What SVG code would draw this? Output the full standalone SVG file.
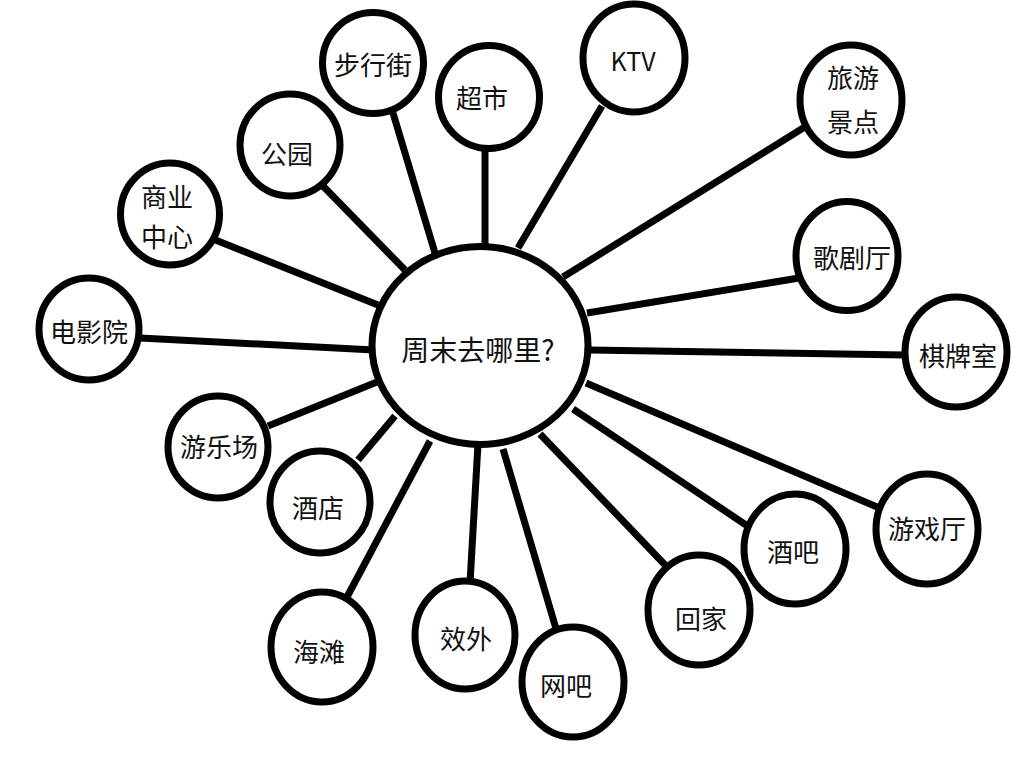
<svg xmlns="http://www.w3.org/2000/svg" width="1025" height="769" viewBox="0 0 1025 769">
<style>
.n{fill:#fff;stroke:#000;stroke-width:7}
.c line{stroke:#000;stroke-width:7;stroke-linecap:butt}
text{font-family:"Noto Sans CJK SC","Microsoft YaHei",sans-serif;font-size:26px;fill:#111;text-anchor:middle}
</style>
<rect width="1025" height="769" fill="#fff"/>
<g id="connectors" class="c">
<line x1="393" y1="113" x2="435" y2="253"/>
<line x1="485" y1="146" x2="485" y2="248"/>
<line x1="320" y1="183" x2="405" y2="270"/>
<line x1="213" y1="239" x2="378" y2="305"/>
<line x1="140" y1="338" x2="374" y2="350"/>
<line x1="602" y1="106" x2="518" y2="248"/>
<line x1="808" y1="125" x2="563" y2="277"/>
<line x1="805" y1="277" x2="587" y2="313"/>
<line x1="905" y1="355" x2="590" y2="350"/>
<line x1="268" y1="426" x2="377" y2="382"/>
<line x1="358" y1="460" x2="395" y2="416"/>
<line x1="347" y1="597" x2="430" y2="441"/>
<line x1="470" y1="583" x2="478" y2="444"/>
<line x1="557" y1="632" x2="503" y2="449"/>
<line x1="667" y1="567" x2="540" y2="434"/>
<line x1="752" y1="529" x2="573" y2="409"/>
<line x1="877" y1="507" x2="586" y2="383"/>
</g>
<g id="center"><ellipse class="n" cx="480" cy="345.5" rx="108" ry="99"/><text x="478" y="361" style="font-size:28px">周末去哪里?</text></g>
<g id="buxingjie"><ellipse class="n" cx="373" cy="63" rx="50.5" ry="50.5"/><text x="373" y="75">步行街</text></g>
<g id="chaoshi"><ellipse class="n" cx="489" cy="97" rx="50.5" ry="51.5"/><text x="482" y="108">超市</text></g>
<g id="gongyuan"><ellipse class="n" cx="290" cy="145" rx="50" ry="51"/><text x="287" y="164">公园</text></g>
<g id="shangye"><ellipse class="n" cx="170" cy="214" rx="49.5" ry="51"/><text x="167" y="207">商业</text><text x="167" y="247">中心</text></g>
<g id="dianyingyuan"><ellipse class="n" cx="89" cy="329" rx="50" ry="51"/><text x="89" y="342">电影院</text></g>
<g id="ktv"><ellipse class="n" cx="634" cy="58" rx="51" ry="54"/><text x="633" y="71" style="font-size:25px">KTV</text></g>
<g id="lvyou"><ellipse class="n" cx="851" cy="100" rx="51" ry="55"/><text x="853" y="88">旅游</text><text x="853" y="132">景点</text></g>
<g id="gejuting"><ellipse class="n" cx="847" cy="256" rx="51" ry="54.5"/><text x="852" y="268">歌剧厅</text></g>
<g id="qipaishi"><ellipse class="n" cx="956" cy="352" rx="51" ry="55"/><text x="958" y="366">棋牌室</text></g>
<g id="youlechang"><ellipse class="n" cx="218" cy="447" rx="50" ry="51"/><text x="219" y="457">游乐场</text></g>
<g id="jiudian"><ellipse class="n" cx="320" cy="502" rx="50" ry="51"/><text x="318" y="518">酒店</text></g>
<g id="haitan"><ellipse class="n" cx="322" cy="647" rx="51" ry="55"/><text x="319" y="662">海滩</text></g>
<g id="xiaowai"><ellipse class="n" cx="465" cy="635" rx="50" ry="54"/><text x="466" y="649">效外</text></g>
<g id="wangba"><ellipse class="n" cx="573" cy="682" rx="51" ry="55"/><text x="566" y="696">网吧</text></g>
<g id="huijia"><ellipse class="n" cx="699" cy="610" rx="51" ry="55"/><text x="701" y="629">回家</text></g>
<g id="jiuba"><ellipse class="n" cx="795" cy="549" rx="51" ry="55"/><text x="793" y="562">酒吧</text></g>
<g id="youxiting"><ellipse class="n" cx="927" cy="529" rx="51" ry="55"/><text x="927" y="539">游戏厅</text></g>
</svg>
